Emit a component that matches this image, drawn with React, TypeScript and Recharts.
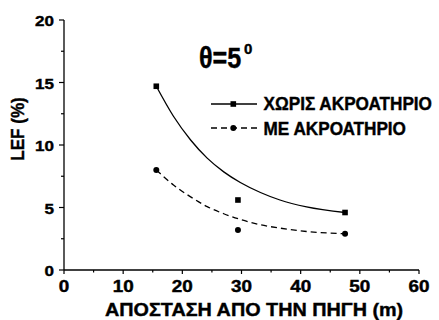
import React from 'react';
import { ComposedChart, Line, Scatter, XAxis, YAxis, Customized } from 'recharts';

// Fitted curves
const curveX = [15.6, 18.5, 21.4, 24.2, 27.0, 29.8, 33.2, 36.5, 41.0, 47.5];
const withoutCurveY = [14.7, 12.3, 10.4, 8.95, 7.85, 7.0, 6.2, 5.6, 5.05, 4.6];
const withCurveY = [8.0, 6.8, 5.85, 5.07, 4.5, 4.05, 3.62, 3.35, 3.08, 2.9];

// Measured points
const pointX = [15.6, 29.4, 47.5];
const withoutPointsY = [14.7, 5.6, 4.6];
const withPointsY = [8.0, 3.2, 2.9];

const xTicks = [0, 5, 10, 15, 20, 25, 30, 35, 40, 45, 50, 55, 60];
const yTicks = [0, 2.5, 5, 7.5, 10, 12.5, 15, 17.5, 20];

const seriesNames = ['ΧΩΡΙΣ ΑΚΡΟΑΤΗΡΙΟ', 'ΜΕ ΑΚΡΟΑΤΗΡΙΟ'];
const xTitle = 'ΑΠΟΣΤΑΣΗ ΑΠΟ ΤΗΝ ΠΗΓΗ (m)';
const yTitle = 'LEF (%)';

const FONT = 'Arial, "Liberation Sans", sans-serif';
const B: React.CSSProperties = { fontFamily: FONT, fontWeight: 700, stroke: '#000', strokeWidth: 0.4 };

const toPts = (xs: number[], ys: number[]) => xs.map((x, i) => ({ x, y: ys[i] }));
const withoutCurve = toPts(curveX, withoutCurveY);
const withCurve = toPts(curveX, withCurveY);
const withoutPoints = toPts(pointX, withoutPointsY);
const withPoints = toPts(pointX, withPointsY);

const XTick = (props: any) => {
  const { x, y, payload } = props;
  const v = payload.value;
  const major = v % 10 === 0;
  return (
    <g>
      <line x1={x} y1={y} x2={x} y2={y + (major ? 4 : 2.5)} stroke="#000" strokeWidth={1.2} />
      {major && (
        <g transform={`translate(${x},${y + 22}) scale(1.18,1)`}>
          <text x={0} y={0} textAnchor="middle" style={{ ...B, fontSize: 16 }} fill="#000">
            {v}
          </text>
        </g>
      )}
    </g>
  );
};

const YTick = (props: any) => {
  const { x, y, payload } = props;
  const v = payload.value;
  const major = v % 5 === 0;
  return (
    <g>
      <line x1={x} y1={y} x2={x - (major ? 5 : 3)} y2={y} stroke="#000" strokeWidth={1.2} />
      {major && (
        <g transform={`translate(${x - 10},${y + 6}) scale(1.1,1)`}>
          <text x={0} y={0} textAnchor="end" style={{ ...B, fontSize: 15.5 }} fill="#000">
            {v}
          </text>
        </g>
      )}
    </g>
  );
};

const Square = (p: any) => <rect x={p.cx - 2.8} y={p.cy - 2.8} width={5.6} height={5.6} fill="#000" />;
const Dot = (p: any) => <circle cx={p.cx} cy={p.cy} r={3} fill="#000" />;

const Overlay = () => (
  <g fill="#000">
    <g transform="translate(199,68) scale(0.84,1)">
      <text x={0} y={0} style={{ ...B, fontSize: 30 }}>θ=5</text>
    </g>
    <text x={244} y={53.5} style={{ ...B, fontSize: 15 }}>0</text>

    <line x1={211} y1={104} x2={257} y2={104} stroke="#000" strokeWidth={1.3} />
    <rect x={233.3 - 2.8} y={104 - 2.8} width={5.6} height={5.6} fill="#000" />
    <g transform="translate(263.5,110) scale(0.955,1)">
      <text x={0} y={0} style={{ ...B, fontSize: 18 }}>{seriesNames[0]}</text>
    </g>

    <line x1={211} y1={128} x2={257} y2={128} stroke="#000" strokeWidth={1.3} strokeDasharray="6 4" />
    <circle cx={233.3} cy={128} r={3} fill="#000" />
    <g transform="translate(263.5,135) scale(0.955,1)">
      <text x={0} y={0} style={{ ...B, fontSize: 18 }}>{seriesNames[1]}</text>
    </g>

    <g transform="translate(105,316) scale(1.07,1)">
      <text x={0} y={0} style={{ ...B, fontSize: 18.5 }}>{xTitle}</text>
    </g>
    <g transform="translate(23.5,129) rotate(-90) scale(0.95,1)">
      <text x={0} y={0} textAnchor="middle" style={{ ...B, fontSize: 18 }}>{yTitle}</text>
    </g>
  </g>
);

export default function App() {
  return (
    <div style={{ position: 'absolute', left: 0, top: 0, background: '#fff' }}>
      <ComposedChart width={439} height={320} margin={{ top: 20, right: 20, bottom: 20, left: 0 }}>
        <XAxis
          type="number"
          dataKey="x"
          domain={[0, 60]}
          ticks={xTicks}
          interval={0}
          allowDataOverflow
          tick={<XTick />}
          tickLine={false}
          tickSize={0}
          tickMargin={0}
          height={30}
          axisLine={{ stroke: '#000', strokeWidth: 1.3 }}
        />
        <YAxis
          type="number"
          dataKey="y"
          domain={[0, 20]}
          ticks={yTicks}
          interval={0}
          allowDataOverflow
          tick={<YTick />}
          tickLine={false}
          tickSize={0}
          tickMargin={0}
          width={64}
          axisLine={{ stroke: '#000', strokeWidth: 1.3 }}
        />
        <Line data={withoutCurve} dataKey="y" type="monotone" stroke="#000" strokeWidth={1.3} dot={false} activeDot={false} isAnimationActive={false} />
        <Line data={withCurve} dataKey="y" type="monotone" stroke="#000" strokeWidth={1.3} strokeDasharray="6 4" dot={false} activeDot={false} isAnimationActive={false} />
        <Scatter data={withoutPoints} dataKey="y" shape={Square} isAnimationActive={false} />
        <Scatter data={withPoints} dataKey="y" shape={Dot} isAnimationActive={false} />
        <Customized component={<Overlay />} />
      </ComposedChart>
    </div>
  );
}
